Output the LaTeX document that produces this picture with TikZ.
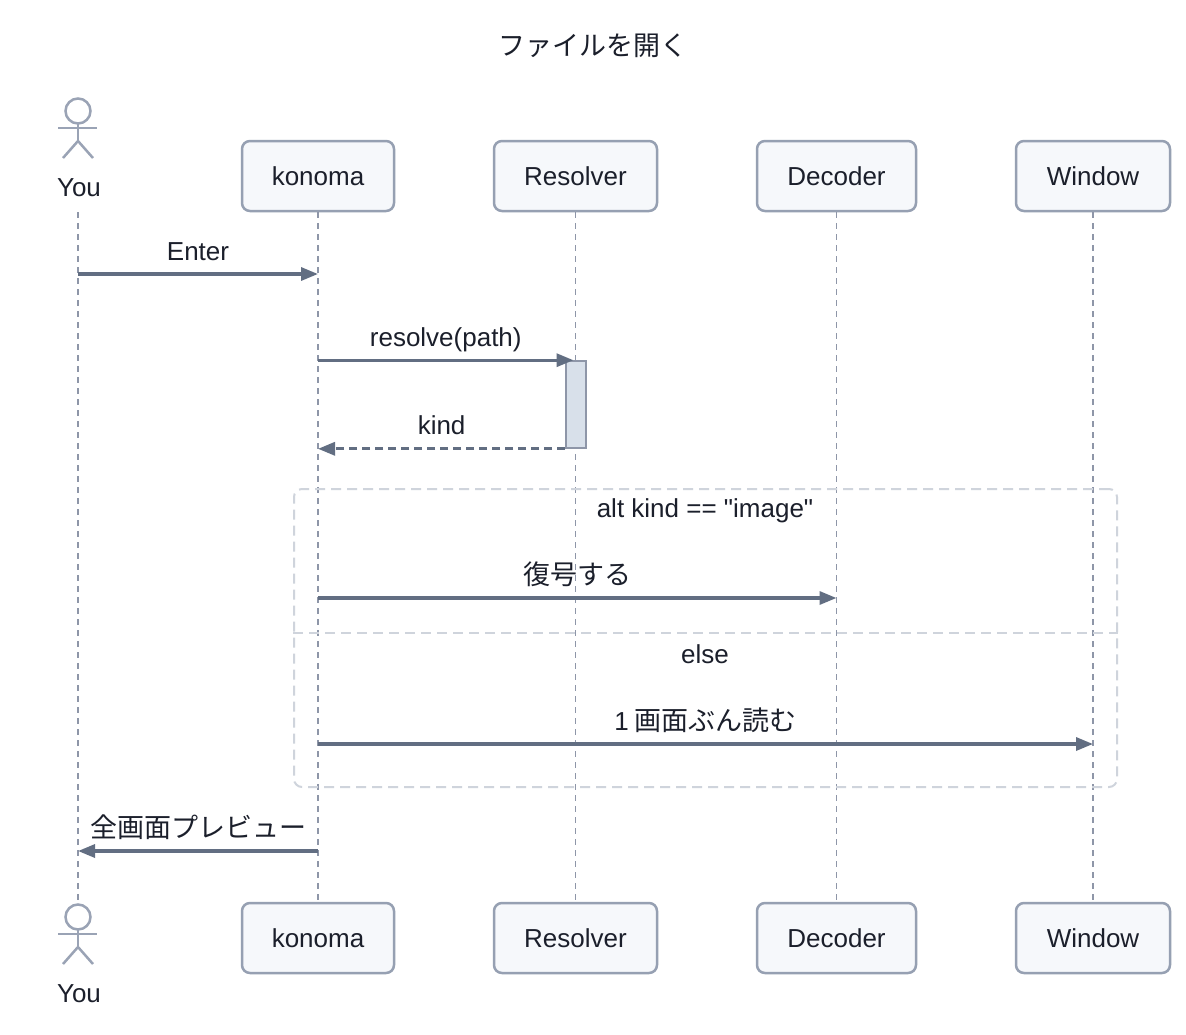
\documentclass[tikz,border=0pt]{standalone}
\usepackage{fontspec}
\setmainfont{Liberation Sans}
\newfontfamily\rawsans{Liberation Sans}
\newfontfamily\cjk{Noto Sans CJK JP}
\newcommand\jpfont{\cjk\fontsize{27}{32}\selectfont}
\usetikzlibrary{arrows.meta}
\definecolor{linec}{HTML}{626E82}
\definecolor{boxborder}{HTML}{96A0B2}
\definecolor{boxfill}{HTML}{F6F8FB}
\definecolor{txt}{HTML}{1B1F2B}
\definecolor{lifec}{HTML}{8E96A8}
\definecolor{actfill}{HTML}{D8E0EA}
\definecolor{framec}{HTML}{CFD4DC}
\definecolor{actorc}{HTML}{9AA3B5}
\tikzset{
  basefont/.style={font=\fontsize{26}{31}\selectfont, text=txt},
  part/.style={basefont, draw=boxborder, fill=boxfill, line width=2.5pt, rounded corners=8pt, minimum height=70pt, inner sep=0pt},
  lifeline/.style={draw=lifec, line width=1.6pt, dash pattern=on 6pt off 5pt},
  msg/.style={draw=linec, line width=3.2pt, -{Triangle[length=17pt,width=13pt]}},
  msgdash/.style={msg, dash pattern=on 8pt off 5pt},
  lbl/.style={basefont, anchor=base, yshift=14pt, inner sep=0pt},
  plainlbl/.style={basefont, anchor=base, inner sep=0pt},
  actbar/.style={draw=lifec, fill=actfill, line width=1.6pt, minimum width=20pt, minimum height=87pt, inner sep=0pt},
  altframe/.style={draw=framec, line width=2pt, dash pattern=on 10pt off 6pt, rounded corners=8pt, minimum width=823pt, minimum height=298pt, inner sep=0pt},
  framesep/.style={draw=framec, line width=2pt, dash pattern=on 10pt off 6pt},
  stickman/.pic={
    \draw[draw=actorc, line width=2.5pt] (0,0) circle (12.5pt);
    \draw[draw=actorc, line width=2.5pt] (0,12.5) -- (0,30);
    \draw[draw=actorc, line width=2.5pt] (-20,17) -- (19,17);
    \draw[draw=actorc, line width=2.5pt] (-15,47) -- (0,30) -- (15,47);
  }
}
\begin{document}
\begin{tikzpicture}[x=1pt,y=-1pt]
\useasboundingbox[fill=white] (0,0) rectangle (1186,1034);
% title
\node[plainlbl] (title) at (593,55) {\jpfont ファイルを開く};
% participants
\node[part, minimum width=152pt] (kt) at (318,176) {konoma};
\node[part, minimum width=163pt] (rt) at (575.5,176) {Resolver};
\node[part, minimum width=159pt] (dt) at (836.5,176) {Decoder};
\node[part, minimum width=154pt] (wt) at (1093,176) {Window};
\node[part, minimum width=152pt] (kb) at (318,938) {konoma};
\node[part, minimum width=163pt] (rb) at (575.5,938) {Resolver};
\node[part, minimum width=159pt] (db) at (836.5,938) {Decoder};
\node[part, minimum width=154pt] (wb) at (1093,938) {Window};
% actors
\pic at (78,111) {stickman};
\node[plainlbl] (yt) at (79,196) {You};
\pic at (78,917) {stickman};
\node[plainlbl] (yb) at (79,1002) {You};
\coordinate (ytop) at (78,212);
\coordinate (ybot) at (78,903);
% lifelines
\draw[lifeline] (ytop) -- (ybot);
\draw[lifeline] (kt.south) -- (kb.north);
\draw[lifeline] (rt.south) -- (rb.north);
\draw[lifeline] (dt.south) -- (db.north);
\draw[lifeline] (wt.south) -- (wb.north);
% activation
\node[actbar] (ract) at (576,404.5) {};
% alt frame
\node[altframe] (alt) at (705.5,638) {};
\draw[framesep] (alt.west |- 0,633) -- (alt.east |- 0,633);
\node[plainlbl] (altlbl) at (705,517) {\rawsans alt kind == "image"};
\node[plainlbl] (elselbl) at (705,663) {else};
% messages
\draw[msg] (ytop |- 0,274) -- node[lbl] {Enter} (kt |- 0,274);
\draw[msg] (kt |- ract.north) -- node[lbl] {resolve(path)} ([xshift=-2pt]rt |- ract.north);
\draw[msgdash] (ract.south west) -- node[lbl] {kind} (kt |- ract.south);
\draw[msg] (kt |- 0,598) -- node[lbl] {\jpfont 復号する} (dt |- 0,598);
\draw[msg] (kt |- 0,744) -- node[lbl] {1\hspace{6pt}\jpfont 画面ぶん読む} (wt |- 0,744);
\draw[msg] (kt |- 0,851) -- node[lbl] {\jpfont 全画面プレビュー} (ytop |- 0,851);
\end{tikzpicture}
\end{document}
